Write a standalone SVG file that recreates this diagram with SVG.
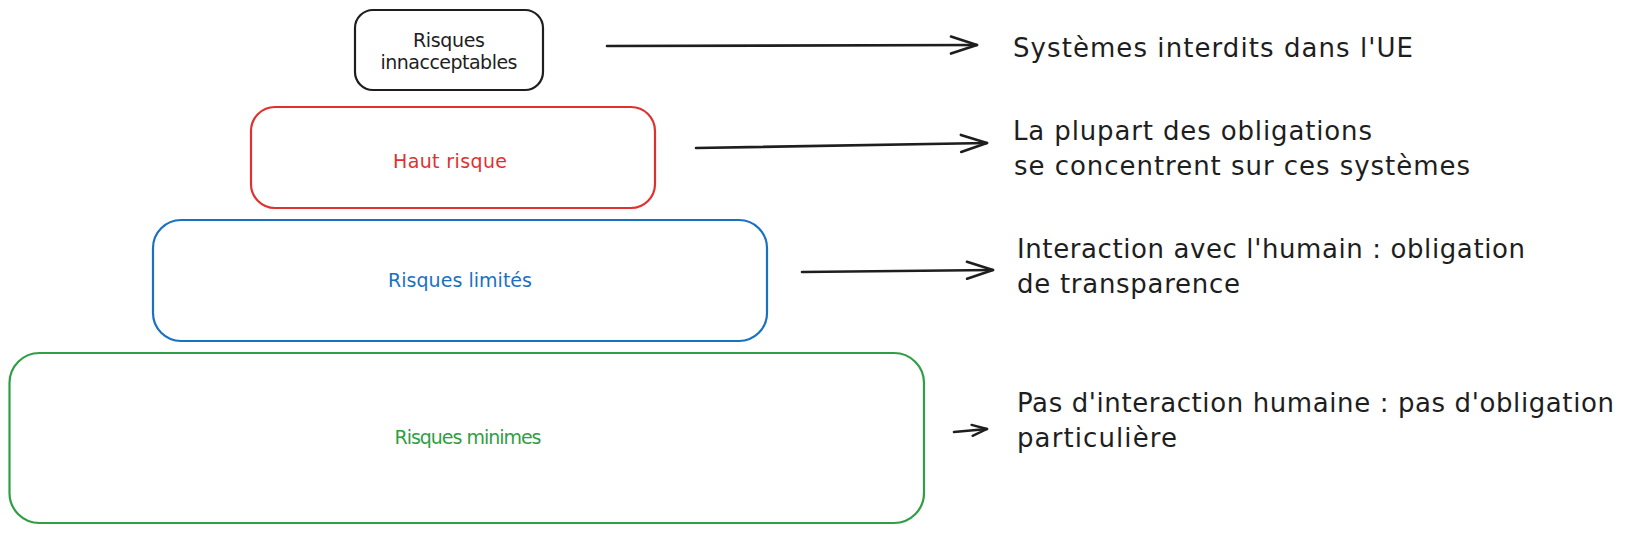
<svg xmlns="http://www.w3.org/2000/svg" width="1639" height="534" viewBox="0 0 1639 534">
<style>
.box{fill:#fff;stroke-width:2.2;stroke-linejoin:round}
.lbl{font-family:"DejaVu Sans","Liberation Sans",sans-serif;font-size:19px;text-anchor:middle}
.note{font-family:"DejaVu Sans","Liberation Sans",sans-serif;font-size:26px;fill:#1e1e1e}
.conn{fill:none;stroke:#1e1e1e;stroke-width:2.6;stroke-linecap:round}
</style>
<defs>
<marker id="ah" markerUnits="userSpaceOnUse" viewBox="-30 -15 34 30" refX="0" refY="0" markerWidth="34" markerHeight="30" orient="auto" overflow="visible">
<path d="M -26 -8.5 L 0 0 L -26 8.5" fill="none" stroke="#1e1e1e" stroke-width="2.6" stroke-linecap="round" stroke-linejoin="round"/>
</marker>
<marker id="ahs" markerUnits="userSpaceOnUse" viewBox="-20 -10 24 20" refX="0" refY="0" markerWidth="24" markerHeight="20" orient="auto" overflow="visible">
<path d="M -15 -5.5 L 0 0 L -15 5.5" fill="none" stroke="#1e1e1e" stroke-width="2.4" stroke-linecap="round" stroke-linejoin="round"/>
</marker>
</defs>
<rect width="1639" height="534" fill="#ffffff"/>
<g id="node-inacceptable">
<rect class="box" x="355" y="10" width="188" height="80" rx="18" stroke="#1e1e1e"/>
<text class="lbl" x="449" y="47" fill="#1e1e1e" textLength="72">Risques</text>
<text class="lbl" x="449" y="69" fill="#1e1e1e" textLength="137">innacceptables</text>
</g>
<g id="node-haut">
<rect class="box" x="251" y="107" width="404" height="101" rx="24" stroke="#e03131"/>
<text class="lbl" x="450" y="168" fill="#e03131" textLength="114">Haut risque</text>
</g>
<g id="node-limite">
<rect class="box" x="153" y="220" width="614" height="121" rx="28" stroke="#1971c2"/>
<text class="lbl" x="460" y="287" fill="#1971c2" textLength="144">Risques limités</text>
</g>
<g id="node-minime">
<rect class="box" x="9.5" y="353" width="914.5" height="170" rx="30" stroke="#2f9e44"/>
<text class="lbl" x="468" y="444" fill="#2f9e44" textLength="147">Risques minimes</text>
</g>
<g id="connectors">
<path class="conn" d="M 607 46 L 977 45" marker-end="url(#ah)"/>
<path class="conn" d="M 696 148 L 987 143" marker-end="url(#ah)"/>
<path class="conn" d="M 802 272 L 993 270" marker-end="url(#ah)"/>
<path class="conn" d="M 954 432 L 987 429" marker-end="url(#ahs)"/>
</g>
<g id="notes">
<text class="note" x="1013" y="57" textLength="400">Systèmes interdits dans l'UE</text>
<text class="note" x="1013" y="140" textLength="359">La plupart des obligations</text>
<text class="note" x="1014" y="175" textLength="456">se concentrent sur ces systèmes</text>
<text class="note" x="1017" y="258" textLength="508">Interaction avec l'humain : obligation</text>
<text class="note" x="1017" y="293" textLength="223">de transparence</text>
<text class="note" x="1017" y="412" textLength="597">Pas d'interaction humaine : pas d'obligation</text>
<text class="note" x="1017" y="447" textLength="160">particulière</text>
</g>
</svg>
